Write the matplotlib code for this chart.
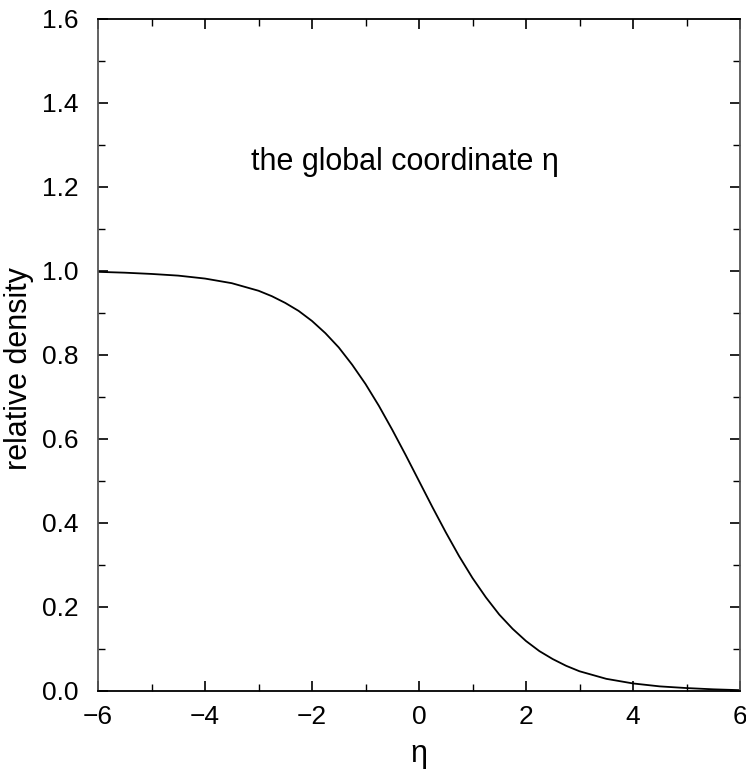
import matplotlib
matplotlib.use("Agg")
import matplotlib.pyplot as plt
from matplotlib.ticker import MultipleLocator

plt.rcParams['font.family'] = ['Liberation Sans', 'DejaVu Sans']

eta = [-6.0, -5.5, -5.0, -4.5, -4.0, -3.5, -3.0, -2.75, -2.5, -2.25, -2.0, -1.75,
       -1.5, -1.25, -1.0, -0.75, -0.5, -0.25, 0.0, 0.25, 0.5, 0.75, 1.0, 1.25,
       1.5, 1.75, 2.0, 2.25, 2.5, 2.75, 3.0, 3.5, 4.0, 4.5, 5.0, 5.5, 6.0]
density = [0.998, 0.996, 0.993, 0.989, 0.982, 0.971, 0.953, 0.940, 0.924, 0.905,
           0.881, 0.852, 0.818, 0.777, 0.731, 0.679, 0.622, 0.562, 0.500, 0.438,
           0.378, 0.321, 0.269, 0.223, 0.182, 0.148, 0.119, 0.095, 0.076, 0.060,
           0.047, 0.029, 0.018, 0.011, 0.007, 0.004, 0.002]

xticks = [-6, -4, -2, 0, 2, 4, 6]
yticks = [0.0, 0.2, 0.4, 0.6, 0.8, 1.0, 1.2, 1.4, 1.6]

fig = plt.figure(figsize=(7.46, 7.72), dpi=100)
ax = fig.add_axes([98/746, 1-691/772, (740-98)/746, (691-19)/772])
ax.plot(eta, density, color='black', lw=1.3)
ax.set_xlim(-6, 6)
ax.set_ylim(0, 1.6)
ax.set_xticks(xticks)
ax.set_xticklabels([f"{t}".replace('-', '\u2212') for t in xticks])
ax.set_yticks(yticks)
ax.set_yticklabels([f"{t:.1f}" for t in yticks])
ax.xaxis.set_minor_locator(MultipleLocator(1))
ax.yaxis.set_minor_locator(MultipleLocator(0.1))
ax.tick_params(which='both', direction='in', top=True, right=True, labelsize=19, color='black')
ax.tick_params(which='major', length=7, width=1.2)
ax.tick_params(which='minor', length=5, width=1.0)
ax.tick_params(axis='x', pad=10)
ax.tick_params(axis='y', pad=14)
for s in ax.spines.values():
    s.set_linewidth(1.3)
ax.spines['left'].set_color('#555555')
ax.spines['right'].set_color('#555555')
ax.set_xlabel('η', fontsize=22)
ax.xaxis.set_label_coords(0.5, -0.072)
ax.set_ylabel('relative density', fontsize=22)
ax.yaxis.set_label_coords(-0.1, 0.48)
ax.text(-0.26, 1.26, 'the global coordinate η', fontsize=22, ha='center', va='center')
fig.savefig('out.png', dpi=100)
